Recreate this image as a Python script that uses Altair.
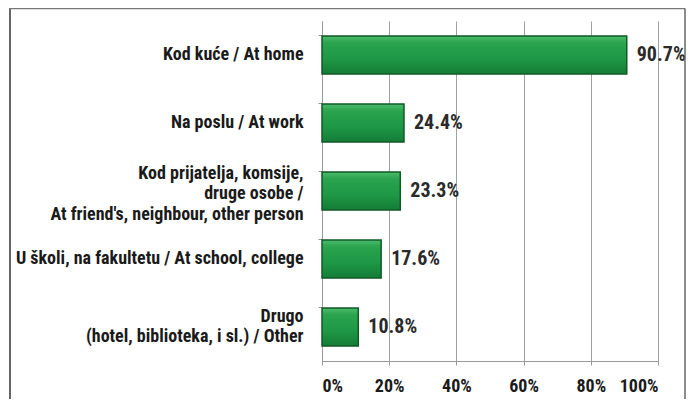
import altair as alt
import pandas as pd

categories = [
    "Kod kuće / At home",
    "Na poslu / At work",
    "Kod prijatelja, komsije,|druge osobe /|At friend's, neighbour, other person",
    "U školi, na fakultetu / At school, college",
    "Drugo|(hotel, biblioteka, i sl.) / Other",
]
values = [90.7, 24.4, 23.3, 17.6, 10.8]
x_ticks = [0, 20, 40, 60, 80, 100]

df = pd.DataFrame({"cat": categories, "val": values})
df["lbl"] = [f"{v:.1f}%" for v in values]

FONT = "Liberation Sans Narrow, Roboto Condensed, Arial Narrow, Liberation Sans, sans-serif"

W, H = 336, 340
LH = 20.5

grad = alt.Gradient(
    gradient="linear",
    stops=[
        alt.GradientStop(color="#4cbd6b", offset=0),
        alt.GradientStop(color="#2ba34f", offset=0.18),
        alt.GradientStop(color="#1e9846", offset=0.6),
        alt.GradientStop(color="#147c36", offset=1),
    ],
    x1=0, x2=0, y1=0, y2=1,
)

label_offset = {
    "condition": [
        {"test": "length(split(datum.value, '|')) == 3", "value": -LH + 3},
        {"test": "length(split(datum.value, '|')) == 2", "value": -LH / 2},
    ],
    "value": 0,
}

y_enc = alt.Y(
    "cat:N",
    sort=categories,
    title=None,
    scale=alt.Scale(paddingInner=0.44, paddingOuter=0.22),
    axis=alt.Axis(
        labelExpr="split(datum.label, '|')",
        labelFont=FONT,
        labelFontSize=18,
        labelFontWeight="bold",
        labelColor="#1a1a1a",
        labelLineHeight=LH,
        labelPadding=15,
        labelLimit=320,
        labelOffset=label_offset,
        tickSize=4,
        tickColor="#999999",
        domainColor="#999999",
        bandPosition=0,
        grid=False,
    ),
)

x_enc = alt.X(
    "val:Q",
    title=None,
    scale=alt.Scale(domain=[0, 100]),
    axis=alt.Axis(
        values=x_ticks,
        labelExpr="datum.value + '%'",
        labelFont=FONT,
        labelFontSize=18,
        labelFontWeight="bold",
        labelColor="#1a1a1a",
        labelPadding=12,
        tickSize=4,
        tickColor="#999999",
        domainColor="#999999",
        grid=True,
        gridColor="#a0a0a0",
        gridWidth=1,
    ),
)

bars = alt.Chart(df).mark_bar(
    color=grad, stroke="#0f5a27", strokeWidth=1.5
).encode(x=x_enc, y=y_enc)

texts = alt.Chart(df).mark_text(
    align="left", baseline="middle", dx=10,
    font=FONT, fontSize=20, fontWeight="bold", color="#2a2a2a",
).encode(x="val:Q", y=alt.Y("cat:N", sort=categories), text="lbl:N")

frame_src = pd.DataFrame({"k": [0]})
frame_left = alt.Chart(frame_src).mark_rule(color="#666666", strokeWidth=2).encode(
    x=alt.value(-312), y=alt.value(-12.5), y2=alt.value(400)
)
frame_top = alt.Chart(frame_src).mark_rule(color="#777777", strokeWidth=1.5).encode(
    x=alt.value(-313), x2=alt.value(363), y=alt.value(-12.5)
)
frame_right = alt.Chart(frame_src).mark_rule(color="#666666", strokeWidth=1.5).encode(
    x=alt.value(363), y=alt.value(-12.5), y2=alt.value(400)
)

chart = alt.layer(bars, texts, frame_left, frame_top, frame_right).properties(
    width=W, height=H,
    autosize=alt.AutoSizeParams(type="none"),
    padding={"left": 314, "top": 13, "right": 28, "bottom": 38},
    background="white",
).configure_view(stroke=None)

chart.save("out.html", embed_options={"renderer": "svg", "actions": False})
